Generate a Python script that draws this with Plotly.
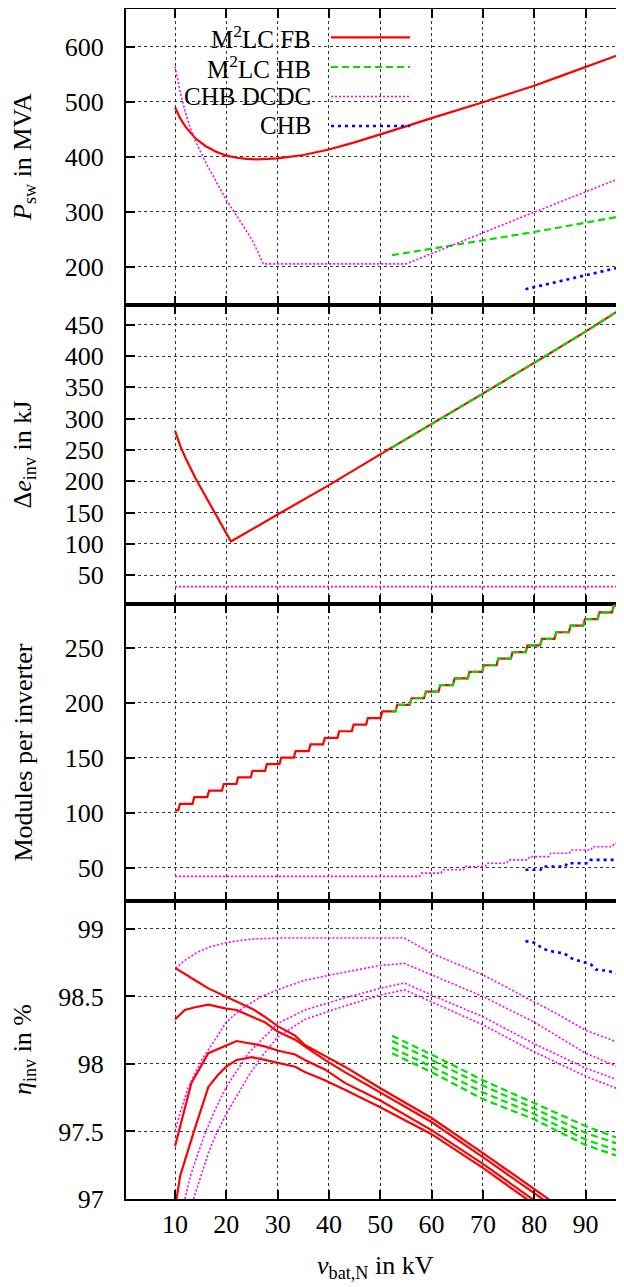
import plotly.graph_objects as go

# ---------------- data ----------------
# Panel 1: switched power P_sw in MVA
p_fb_kv = [10, 11, 12, 13, 14, 16, 18, 20, 22, 24, 26, 28, 30, 35, 40, 45, 50, 55, 60, 65, 70, 75, 80, 85, 90, 95, 100]
p_fb = [490, 470, 455, 443, 433, 419, 409, 402, 398, 396, 395, 396, 397, 403, 413, 426, 440, 455, 470, 484, 499, 514, 529, 546, 563, 580, 597]
p_hb_kv = [52.3, 60, 70, 80, 90, 100]
p_hb = [221, 233, 248, 263, 280, 297]
p_dcdc_kv = [10, 11, 12, 13, 14, 15, 16, 17, 18, 20, 22, 24, 25, 26, 27.2, 55, 60, 70, 80, 90, 100]
p_dcdc = [564, 518, 481, 452, 428, 407, 389, 372, 355, 321, 293, 264, 249, 230, 205, 205, 224, 262, 299, 336, 373]
p_chb_kv = [78.3, 85, 90, 95, 100]
p_chb = [159, 173, 184, 195, 206]

# Panel 2: energy ripple in kJ
e_fb_kv = [10, 10.5, 11, 12, 13, 14, 15, 16, 17, 18, 19, 20, 20.9, 30, 40, 50, 60, 70, 80, 90, 100]
e_fb = [281, 268, 257, 238, 221, 205, 190, 175, 160, 145, 130, 116, 104, 147, 194, 243, 291, 340, 389, 439, 491]
e_hb_kv = [52.3, 60, 70, 80, 90, 100]
e_hb = [254, 291, 340, 389, 439, 491]
e_dcdc_kv = [10, 100]
e_dcdc = [32, 32]

# Panel 3: modules per inverter (step start voltage, module count)
m_fb_kv = [10, 10.97, 13.76, 16.63, 19.5, 22.3, 25.1, 27.9, 30.7, 33.5, 36.4, 39.2, 42.0, 44.8, 47.6, 50.4,
           53.3, 56.1, 58.9, 61.7, 64.5, 67.4, 70.2, 73.0, 75.8, 78.7, 81.5, 84.3, 87.1, 89.9, 92.7, 95.5]
m_fb = [102, 108, 114, 120, 126, 132, 138, 144, 150, 156, 162, 168, 174, 180, 186, 192,
        198, 204, 210, 216, 222, 228, 234, 240, 246, 252, 258, 264, 270, 276, 282, 288]
m_hb_kv = [52.3, 53.3, 56.1, 58.9, 61.7, 64.5, 67.4, 70.2, 73.0, 75.8, 78.7, 81.5, 84.3, 87.1, 89.9, 92.7, 95.5]
m_hb = [192, 198, 204, 210, 216, 222, 228, 234, 240, 246, 252, 258, 264, 270, 276, 282, 288]
m_dcdc_kv = [10, 58.0, 62.2, 66.6, 70.8, 75.0, 79.1, 83.2, 87.2, 91.4, 95.6]
m_dcdc = [42, 45, 48, 51, 54, 57, 60, 63, 66, 69, 72]
m_chb_kv = [78.3, 81.6, 86.4, 91.0, 97.0]
m_chb = [48, 51, 54, 57, 60]
m_kv_end = 100

# Panel 4: inverter efficiency in %
eta_fb_kv = [
    [10.1, 11.9, 13.9, 16.5, 20, 22, 25, 27.5, 30, 33.4, 35.3, 39.2, 43.1, 50, 60, 70, 80, 85],
    [10, 11.9, 13.9, 16.5, 20, 22, 25, 27.5, 30, 33.4, 35.3, 39.2, 43.1, 50, 60, 70, 80, 85],
    [10, 11.3, 13.2, 16.5, 18.4, 20, 22, 25, 27.5, 30, 33.4, 35.3, 39.2, 43.1, 50, 60, 70, 80],
    [10.3, 11, 13.6, 16.5, 18.4, 20, 22, 25, 27.5, 30, 33.4, 35.3, 39.2, 43.1, 50, 60, 70, 80],
]
eta_fb = [
    [98.71, 98.67, 98.62, 98.56, 98.50, 98.46, 98.41, 98.35, 98.28, 98.21, 98.14, 98.06, 97.98, 97.82, 97.60, 97.34, 97.07, 96.94],
    [98.33, 98.40, 98.42, 98.44, 98.41, 98.40, 98.35, 98.31, 98.24, 98.18, 98.13, 98.03, 97.94, 97.79, 97.57, 97.31, 97.04, 96.91],
    [97.39, 97.59, 97.86, 98.08, 98.11, 98.14, 98.17, 98.15, 98.13, 98.10, 98.07, 98.03, 97.96, 97.86, 97.73, 97.51, 97.26, 96.99],
    [97.00, 97.17, 97.49, 97.83, 97.92, 97.98, 98.03, 98.05, 98.03, 98.01, 97.98, 97.94, 97.88, 97.81, 97.68, 97.48, 97.23, 96.96],
]
eta_hb_kv = [52.3, 60, 70, 80, 90, 100]
eta_hb = [
    [98.21, 98.07, 97.88, 97.71, 97.54, 97.40],
    [98.17, 98.03, 97.84, 97.67, 97.49, 97.36],
    [98.12, 97.98, 97.79, 97.63, 97.44, 97.31],
    [98.08, 97.94, 97.74, 97.59, 97.40, 97.27],
]
eta_dcdc_kv = [
    [10.1, 12, 14.5, 17, 20, 25, 30, 54.7, 60, 65, 70, 75, 80, 85, 90, 95, 100],
    [10, 11, 12.6, 15.2, 17.8, 20, 23, 26.9, 30, 35.3, 43.1, 50, 54.7, 60, 70, 80, 90, 100],
    [11.95, 13, 14.5, 16, 17.8, 20, 24.3, 30, 35.3, 43.1, 50, 54.7, 60, 70, 80, 90, 100],
    [13.6, 15, 16.5, 18, 20, 22, 24.3, 27, 30, 35.3, 43.1, 50, 54.7, 60, 70, 80, 90, 100],
]
eta_dcdc = [
    [98.71, 98.77, 98.83, 98.87, 98.90, 98.926, 98.933, 98.933, 98.82, 98.74, 98.66, 98.56, 98.46, 98.36, 98.25, 98.18, 98.10],
    [97.50, 97.64, 97.83, 98.03, 98.18, 98.31, 98.41, 98.50, 98.55, 98.62, 98.68, 98.73, 98.745, 98.66, 98.50, 98.31, 98.08, 97.92],
    [97.00, 97.17, 97.34, 97.50, 97.66, 97.83, 98.08, 98.30, 98.40, 98.49, 98.56, 98.60, 98.51, 98.35, 98.15, 97.97, 97.83],
    [97.00, 97.17, 97.34, 97.48, 97.63, 97.76, 97.91, 98.06, 98.20, 98.33, 98.43, 98.51, 98.55, 98.46, 98.29, 98.09, 97.91, 97.76],
]
eta_chb_kv = [78.3, 79.9, 81.9, 83.9, 85.8, 87.4, 89.1, 91.0, 92.0, 94.3, 96.2, 97.5, 100]
eta_chb = [98.91, 98.90, 98.85, 98.83, 98.82, 98.78, 98.76, 98.74, 98.70, 98.69, 98.67, 98.63, 98.59]

x_ticks = [10, 20, 30, 40, 50, 60, 70, 80, 90]
legend_names = ["M<sup>2</sup>LC FB", "M<sup>2</sup>LC HB", "CHB DCDC", "CHB"]

# ---------------- styles ----------------
FONT = "Liberation Serif, Times New Roman, DejaVu Serif, serif"
FS = 26
RED, GREEN, MAGENTA, BLUE = "#ff0000", "#00e000", "#ff00ff", "#0000ff"
STY = {
    "fb": dict(color=RED, width=2.2, dash="solid"),
    "hb": dict(color=GREEN, width=2.2, dash="7px,4px"),
    "dcdc": dict(color=MAGENTA, width=1.6, dash="2px,2px"),
    "chb": dict(color=BLUE, width=2.6, dash="3px,4px"),
}
RISER = 0.35

fig = go.Figure()


def add(xs, ys, key, panel):
    fig.add_trace(go.Scatter(x=xs, y=ys, mode="lines", line=STY[key],
                             xaxis="x" if panel == 1 else f"x{panel}",
                             yaxis="y" if panel == 1 else f"y{panel}",
                             showlegend=False, hoverinfo="skip"))


def stairs(kv, n, end):
    xs, ys = [kv[0]], [n[0]]
    for i in range(1, len(kv)):
        xs += [kv[i] - RISER, kv[i]]
        ys += [n[i - 1], n[i]]
    xs.append(end)
    ys.append(n[-1])
    return xs, ys


# panel 1
add(p_fb_kv, p_fb, "fb", 1)
add(p_hb_kv, p_hb, "hb", 1)
add(p_dcdc_kv, p_dcdc, "dcdc", 1)
add(p_chb_kv, p_chb, "chb", 1)
# panel 2
add(e_fb_kv, e_fb, "fb", 2)
add(e_hb_kv, e_hb, "hb", 2)
add(e_dcdc_kv, e_dcdc, "dcdc", 2)
# panel 3
add(*stairs(m_fb_kv, m_fb, m_kv_end), "fb", 3)
add(*stairs(m_hb_kv, m_hb, m_kv_end), "hb", 3)
add(*stairs(m_dcdc_kv, m_dcdc, m_kv_end), "dcdc", 3)
add(*stairs(m_chb_kv, m_chb, m_kv_end), "chb", 3)
# panel 4
for xs, ys in zip(eta_fb_kv, eta_fb):
    add(xs, ys, "fb", 4)
for ys in eta_hb:
    add(eta_hb_kv, ys, "hb", 4)
for xs, ys in zip(eta_dcdc_kv, eta_dcdc):
    add(xs, ys, "dcdc", 4)
add(eta_chb_kv, eta_chb, "chb", 4)

# ---------------- layout ----------------
# the page body adds an 8 px offset, so the figure is 8 px smaller and margins shifted
OFF = 8
W, H = 624 - OFF, 1287 - OFF
L, R, T, B = 126 - OFF, 0, 9 - OFF, 88
PW, PH = W - L - R, H - T - B
domains = {1: [0.7513, 1.0], 2: [0.5, 0.7513], 3: [0.2504, 0.5], 4: [0.0, 0.2504]}
yranges = {1: [130.4, 668.5], 2: [4.2, 481.5], 3: [19.6, 289.7], 4: [97.0, 99.207]}
ydticks = {1: 100, 2: 50, 3: 50, 4: 0.5}
x_range = [0.45, 97.5]

axis_common = dict(showline=True, linecolor="black", linewidth=2, ticks="inside",
                   ticklen=9, tickwidth=1.5, tickcolor="black",
                   showgrid=True, gridcolor="#333333", gridwidth=1, griddash="dot",
                   zeroline=False, automargin=False,
                   tickfont=dict(family=FONT, size=FS, color="black"))

lay = {}
for p in range(1, 5):
    xn = "xaxis" if p == 1 else f"xaxis{p}"
    yn = "yaxis" if p == 1 else f"yaxis{p}"
    lay[xn] = dict(axis_common, range=x_range, tickvals=x_ticks, mirror="ticks",
                   anchor="y" if p == 1 else f"y{p}", showticklabels=(p == 4),
                   ticklabelstandoff=1, domain=[0, 1])
    if p != 1:
        lay[xn]["matches"] = "x"
    lay[yn] = dict(axis_common, range=yranges[p], dtick=ydticks[p], tick0=0,
                   anchor="x" if p == 1 else f"x{p}", domain=domains[p],
                   ticklabelstandoff=15, mirror=False)

fig.update_layout(**lay)


def px_x(x_abs):
    return (x_abs - OFF - L) / PW


def px_y(y_abs):
    return ((H - B) - (y_abs - OFF)) / PH


# y axis titles
ytitles = ["<i>P</i><sub>sw</sub> in MVA", "Δ<i>e</i><sub>inv</sub> in kJ",
           "Modules per inverter", "<i>η</i><sub>inv</sub> in %"]
ann = []
for p, t in enumerate(ytitles, start=1):
    d = domains[p]
    ann.append(dict(text=t, xref="paper", yref="paper", x=px_x(24),
                    y=(d[0] + d[1]) / 2, xanchor="center", yanchor="middle",
                    textangle=-90, showarrow=False,
                    font=dict(family=FONT, size=FS, color="black")))
ann.append(dict(text="<i>v</i><sub>bat,N</sub> in kV", xref="paper", yref="paper",
                x=0.5, y=px_y(1267), xanchor="center", yanchor="middle",
                showarrow=False, font=dict(family=FONT, size=FS, color="black")))

# manual gnuplot-style key (text right, sample to the right)
key_rows = [37.3, 67.0, 96.5, 126.0]
key_keys = ["fb", "hb", "dcdc", "chb"]
shapes = []
for name, k, ypx in zip(legend_names, key_keys, key_rows):
    yp = px_y(ypx)
    ann.append(dict(text=name, xref="paper", yref="paper", x=px_x(313), y=yp,
                    xanchor="right", yanchor="middle", showarrow=False,
                    font=dict(family=FONT, size=FS - 1, color="black")))
    shapes.append(dict(type="line", xref="paper", yref="paper",
                       x0=px_x(331), x1=px_x(410),
                       y0=yp, y1=yp, line=STY[k]))

fig.update_layout(annotations=ann, shapes=shapes, width=W, height=H,
                  margin=dict(l=L, r=R, t=T, b=B, autoexpand=False), paper_bgcolor="white",
                  plot_bgcolor="white", showlegend=False,
                  font=dict(family=FONT, size=FS, color="black"))

fig.write_html("out.html")
